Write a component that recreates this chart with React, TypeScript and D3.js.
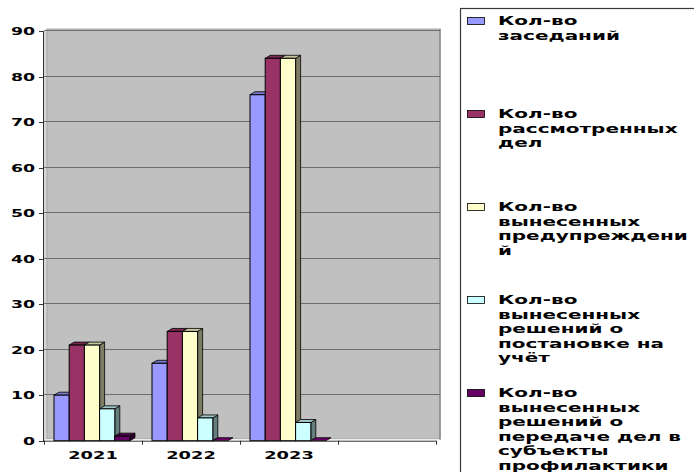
import { useEffect, useRef } from 'react';
import * as d3 from 'd3';

// years on the x axis (the 4th slot of the original chart is empty)
const years = ['2021', '2022', '2023'];
const yTicks = [0, 10, 20, 30, 40, 50, 60, 70, 80, 90];

// one array per series, values per year
const sessions = [10, 17, 76];
const casesReviewed = [21, 24, 84];
const warnings = [21, 24, 84];
const registrations = [7, 5, 4];
const transfers = [1, 0, 0];

const seriesColors = ['#9999FF', '#993366', '#FFFFCC', '#CCFFFF', '#660066'];

// legend labels, wrapped the way the original legend wraps them
const seriesLabels = [
  ['Кол-во', 'заседаний'],
  ['Кол-во', 'рассмотренных', 'дел'],
  ['Кол-во', 'вынесенных', 'предупреждени', 'й'],
  ['Кол-во', 'вынесенных', 'решений о', 'постановке на', 'учёт'],
  ['Кол-во', 'вынесенных', 'решений о', 'передаче дел в', 'субъекты', 'профилактики'],
];

const FONT = "'DejaVu Sans', Verdana, sans-serif";
const STRETCH = 1.65; // the original text is drawn wide
const LEGEND_STRETCH = 1.74;

export default function App() {
  const svgRef = useRef<SVGSVGElement>(null);

  useEffect(() => {
    if (!svgRef.current) return;
    const svg = d3.select(svgRef.current);
    svg.selectAll('*').remove();

    const series = [sessions, casesReviewed, warnings, registrations, transfers];

    const left = 44;
    const right = 436;
    const top = 31;
    const bottom = 440.7;
    const depth = { dx: 5, dy: 3 };

    const x = d3.scaleBand<string>()
      .domain([...years, ''])
      .range([left, right])
      .paddingInner(0)
      .paddingOuter(0);

    const xInner = d3.scaleBand<number>()
      .domain(d3.range(series.length))
      .range([10, 86])
      .padding(0);

    const y = d3.scaleLinear().domain([0, 90]).range([bottom, top]);

    // walls
    svg.append('polygon')
      .attr('points', `${left},${bottom} ${left},${top} ${left + 3},${top - 2} ${left + 3},${bottom - 2}`)
      .attr('fill', '#d6d6d6');
    svg.append('rect')
      .attr('x', left + 3)
      .attr('y', top - 2)
      .attr('width', 440 - left - 3)
      .attr('height', bottom - top)
      .attr('fill', '#c0c0c0')
      .attr('stroke', '#a8a8a8');
    svg.append('line')
      .attr('x1', 440).attr('x2', 440)
      .attr('y1', top - 2).attr('y2', bottom - 1)
      .attr('stroke', '#8a8a8a').attr('stroke-width', 1.5);

    // grid lines
    svg.append('g')
      .selectAll('line')
      .data(yTicks.slice(1))
      .enter()
      .append('line')
      .attr('x1', left)
      .attr('x2', 440)
      .attr('y1', d => Math.round(y(d)) - 0.5)
      .attr('y2', d => Math.round(y(d)) - 0.5)
      .attr('stroke', '#6e6e6e')
      .attr('stroke-width', 1);

    // bars (drawn left to right so each front face covers the previous side face)
    const bars = svg.append('g');
    years.forEach((year, yi) => {
      series.forEach((vals, si) => {
        const color = seriesColors[si];
        const bx = (x(year) || 0) + (xInner(si) || 0);
        const bw = xInner.bandwidth();
        const by = y(vals[yi]);
        const { dx, dy } = depth;
        const g = bars.append('g');
        const sideCol = d3.color(color)!.darker(2).formatHex();
        const topCol = d3.color(color)!.darker(0.7).formatHex();
        if (vals[yi] > 0) {
          g.append('polygon')
            .attr('points', `${bx + bw},${by} ${bx + bw + dx},${by - dy} ${bx + bw + dx},${bottom - dy} ${bx + bw},${bottom}`)
            .attr('fill', sideCol)
            .attr('stroke', '#000')
            .attr('stroke-width', 0.8);
        }
        g.append('polygon')
          .attr('points', `${bx},${by} ${bx + dx},${by - dy} ${bx + bw + dx},${by - dy} ${bx + bw},${by}`)
          .attr('fill', vals[yi] > 0 ? topCol : color)
          .attr('stroke', '#000')
          .attr('stroke-width', 0.8);
        if (vals[yi] > 0) {
          g.append('rect')
            .attr('x', bx)
            .attr('y', by)
            .attr('width', bw)
            .attr('height', bottom - by)
            .attr('fill', color)
            .attr('stroke', '#000')
            .attr('stroke-width', 1);
        }
      });
    });

    // y axis
    const yAxis = svg.append('g');
    yAxis.append('line')
      .attr('x1', left - 0.5).attr('x2', left - 0.5)
      .attr('y1', top).attr('y2', bottom + 0.5)
      .attr('stroke', '#333');
    yTicks.forEach(t => {
      const ty = Math.round(y(t)) + 0.5;
      yAxis.append('line')
        .attr('x1', left - 5).attr('x2', left)
        .attr('y1', ty).attr('y2', ty)
        .attr('stroke', '#333');
      yAxis.append('text')
        .attr('transform', `translate(35,${ty + 3.8}) scale(${STRETCH},1)`)
        .attr('text-anchor', 'end')
        .style('font-family', FONT)
        .style('font-weight', 'bold')
        .style('font-size', '10.5px')
        .attr('fill', '#000')
        .text(t);
    });

    // x axis
    const xAxis = svg.append('g');
    xAxis.append('line')
      .attr('x1', left).attr('x2', right)
      .attr('y1', bottom + 0.5).attr('y2', bottom + 0.5)
      .attr('stroke', '#333');
    [...x.domain().map(d => x(d) || 0), right].forEach(tx => {
      xAxis.append('line')
        .attr('x1', tx + 0.5).attr('x2', tx + 0.5)
        .attr('y1', bottom).attr('y2', bottom + 4)
        .attr('stroke', '#333');
    });
    years.forEach(year => {
      xAxis.append('text')
        .attr('transform', `translate(${(x(year) || 0) + x.bandwidth() / 2},458.5) scale(${STRETCH},1)`)
        .attr('text-anchor', 'middle')
        .style('font-family', FONT)
        .style('font-weight', 'bold')
        .style('font-size', '10.8px')
        .attr('fill', '#000')
        .text(year);
    });

    // legend
    const legend = svg.append('g');
    legend.append('rect')
      .attr('x', 460.5)
      .attr('y', 8.5)
      .attr('width', 260)
      .attr('height', 500)
      .attr('fill', '#fff')
      .attr('stroke', '#3a3a3a')
      .attr('stroke-width', 1.2);
    seriesLabels.forEach((lines, i) => {
      const base = 25 + i * 93;
      legend.append('rect')
        .attr('x', 467.5)
        .attr('y', base - 7.5)
        .attr('width', 17)
        .attr('height', 7)
        .attr('fill', seriesColors[i])
        .attr('stroke', '#000')
        .attr('stroke-width', 0.8);
      lines.forEach((line, li) => {
        legend.append('text')
          .attr('transform', `translate(498,${base + li * 14.6}) scale(${LEGEND_STRETCH},1)`)
          .style('font-family', FONT)
          .style('font-weight', 'bold')
          .style('font-size', '11.5px')
          .attr('fill', '#000')
          .text(line);
      });
    });
  }, []);

  return (
    <svg
      ref={svgRef}
      width={694}
      height={472}
      style={{ position: 'absolute', left: 0, top: 0, background: '#fff', display: 'block' }}
    />
  );
}
